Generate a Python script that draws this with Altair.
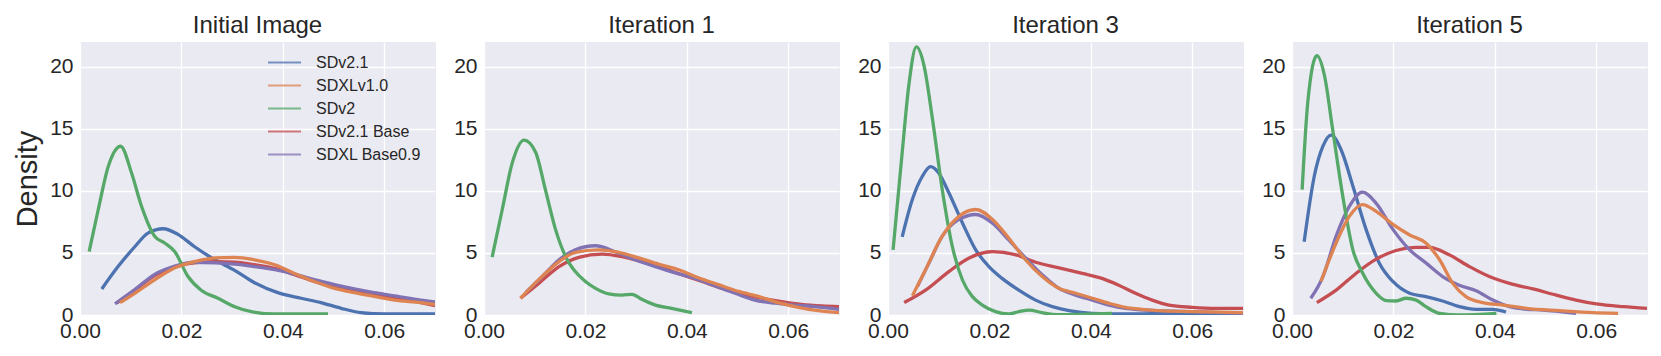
import altair as alt
import pandas as pd

SERIES = ["SDv2.1", "SDXLv1.0", "SDv2", "SDv2.1 Base", "SDXL Base0.9"]
COLORS = ["#4C72B0", "#DD8452", "#55A868", "#C44E52", "#8172B3"]
DRAW_ORDER = ["SDv2.1", "SDv2.1 Base", "SDXL Base0.9", "SDv2", "SDXLv1.0"]
TITLES = ["Initial Image", "Iteration 1", "Iteration 3", "Iteration 5"]
X_TICKS = [0.0, 0.02, 0.04, 0.06]
Y_TICKS = [0, 5, 10, 15, 20]

# ---- Initial Image ----
p1_sdv21_x = [0.0043, 0.0075, 0.0108, 0.0134, 0.0164, 0.0193, 0.0226, 0.0266, 0.0305, 0.0344, 0.039, 0.0436, 0.0475, 0.0515, 0.0554, 0.06, 0.065, 0.07]
p1_sdv21_y = [2.1, 3.9, 5.5, 6.6, 6.95, 6.5, 5.5, 4.45, 3.6, 2.6, 1.8, 1.35, 1.0, 0.54, 0.19, 0.08, 0.08, 0.08]
p1_sdxl10_x = [0.0079, 0.0108, 0.0148, 0.0187, 0.0226, 0.0266, 0.0305, 0.0344, 0.0384, 0.0423, 0.0462, 0.0502, 0.0541, 0.058, 0.062, 0.0672, 0.07]
p1_sdxl10_y = [1.0, 1.75, 2.85, 3.8, 4.3, 4.6, 4.65, 4.45, 4.05, 3.35, 2.7, 2.15, 1.8, 1.5, 1.2, 1.0, 0.85]
p1_sdv2_x = [0.0018, 0.0036, 0.0056, 0.008, 0.0102, 0.0121, 0.0148, 0.0167, 0.0187, 0.0213, 0.0239, 0.0272, 0.0305, 0.0338, 0.0384, 0.043, 0.0489]
p1_sdv2_y = [5.1, 8.5, 12.0, 13.6, 11.4, 8.8, 6.3, 5.8, 5.1, 3.1, 2.0, 1.35, 0.67, 0.27, 0.08, 0.08, 0.08]
p1_sdv21b_x = [0.0072, 0.0108, 0.0148, 0.0187, 0.0226, 0.0266, 0.0305, 0.0344, 0.0384, 0.0423, 0.0462, 0.0502, 0.0541, 0.058, 0.062, 0.0672, 0.07]
p1_sdv21b_y = [0.95, 2.0, 3.2, 3.9, 4.2, 4.3, 4.25, 4.05, 3.75, 3.25, 2.7, 2.3, 1.95, 1.65, 1.35, 1.0, 0.75]
p1_sdxl09_x = [0.0069, 0.0108, 0.0148, 0.0187, 0.0226, 0.0266, 0.0305, 0.0344, 0.0384, 0.0423, 0.0462, 0.0502, 0.0541, 0.058, 0.062, 0.0672, 0.07]
p1_sdxl09_y = [0.9, 2.05, 3.3, 3.95, 4.25, 4.2, 4.1, 3.9, 3.65, 3.3, 2.85, 2.45, 2.1, 1.8, 1.55, 1.2, 1.05]

# ---- Iteration 1 ----
p2_sdxl10_x = [0.0072, 0.0108, 0.0148, 0.018, 0.0226, 0.0266, 0.0305, 0.0344, 0.0384, 0.0423, 0.0462, 0.0502, 0.0541, 0.058, 0.062, 0.0659, 0.07]
p2_sdxl10_y = [1.35, 2.85, 4.3, 5.05, 5.25, 5.05, 4.6, 4.1, 3.65, 3.0, 2.45, 1.9, 1.5, 1.0, 0.62, 0.35, 0.19]
p2_sdv2_x = [0.0016, 0.0036, 0.0056, 0.0079, 0.0102, 0.0121, 0.0141, 0.0161, 0.018, 0.02, 0.022, 0.0246, 0.0272, 0.0292, 0.0311, 0.0338, 0.037, 0.041]
p2_sdv2_y = [4.66, 8.5, 12.3, 14.1, 13.1, 10.1, 6.9, 4.7, 3.5, 2.7, 2.15, 1.7, 1.6, 1.67, 1.27, 0.8, 0.54, 0.19]
p2_sdv21b_x = [0.0072, 0.0108, 0.0148, 0.0187, 0.0233, 0.0272, 0.0311, 0.0351, 0.039, 0.043, 0.0469, 0.0508, 0.0548, 0.0587, 0.0626, 0.0666, 0.07]
p2_sdv21b_y = [1.35, 2.55, 3.9, 4.65, 4.9, 4.7, 4.3, 3.8, 3.25, 2.7, 2.15, 1.7, 1.35, 1.08, 0.86, 0.73, 0.67]
p2_sdxl09_x = [0.0082, 0.0115, 0.0148, 0.018, 0.022, 0.0259, 0.0298, 0.0338, 0.0377, 0.0416, 0.0456, 0.0495, 0.0534, 0.0574, 0.0613, 0.0652, 0.07]
p2_sdxl09_y = [1.8, 3.1, 4.45, 5.25, 5.58, 5.1, 4.45, 3.9, 3.4, 2.95, 2.35, 1.75, 1.2, 0.95, 0.8, 0.67, 0.45]

# ---- Iteration 3 ----
p3_sdv21_x = [0.0028, 0.0048, 0.0068, 0.0084, 0.01, 0.012, 0.0147, 0.0173, 0.0199, 0.0225, 0.0258, 0.0291, 0.0324, 0.0357, 0.0403, 0.0468, 0.0567, 0.07]
p3_sdv21_y = [6.3, 9.3, 11.2, 11.95, 11.45, 9.85, 7.4, 5.25, 3.9, 2.95, 2.0, 1.2, 0.67, 0.35, 0.13, 0.08, 0.13, 0.08]
p3_sdxl10_x = [0.0048, 0.0074, 0.0107, 0.014, 0.0173, 0.0206, 0.0238, 0.0271, 0.0304, 0.0337, 0.037, 0.0403, 0.0436, 0.0468, 0.0501, 0.0534, 0.06, 0.07]
p3_sdxl10_y = [1.55, 3.65, 6.35, 7.95, 8.5, 7.7, 6.2, 4.45, 3.1, 2.15, 1.75, 1.35, 0.94, 0.62, 0.46, 0.35, 0.27, 0.19]
p3_sdv2_x = [0.001, 0.0028, 0.0041, 0.0056, 0.0071, 0.0087, 0.0107, 0.0127, 0.0147, 0.0166, 0.0186, 0.0212, 0.0238, 0.0258, 0.0278, 0.0304, 0.0337, 0.0442]
p3_sdv2_y = [5.25, 13.1, 18.5, 21.6, 20.1, 16.0, 10.1, 5.5, 2.8, 1.5, 0.8, 0.27, 0.08, 0.27, 0.4, 0.19, 0.03, 0.13]
p3_sdv21b_x = [0.0032, 0.0074, 0.012, 0.016, 0.0206, 0.0252, 0.0291, 0.0337, 0.0383, 0.0422, 0.0455, 0.0488, 0.0521, 0.0554, 0.06, 0.0646, 0.07]
p3_sdv21b_y = [1.0, 2.0, 3.5, 4.6, 5.1, 4.85, 4.25, 3.8, 3.35, 2.95, 2.4, 1.75, 1.2, 0.8, 0.62, 0.54, 0.54]
p3_sdxl09_x = [0.0058, 0.0081, 0.0107, 0.014, 0.0173, 0.0206, 0.0238, 0.0271, 0.0304, 0.0337, 0.037, 0.0403, 0.0436, 0.0468, 0.0534, 0.06, 0.07]
p3_sdxl09_y = [2.3, 4.2, 6.35, 7.7, 8.1, 7.4, 6.05, 4.6, 3.25, 2.15, 1.6, 1.2, 0.8, 0.54, 0.35, 0.27, 0.13]

# ---- Iteration 5 ----
p4_sdv21_x = [0.0024, 0.0044, 0.0061, 0.0077, 0.0097, 0.012, 0.0146, 0.0172, 0.0199, 0.0232, 0.0264, 0.0297, 0.033, 0.0363, 0.0396, 0.0422]
p4_sdv21_y = [5.9, 11.2, 13.6, 14.5, 13.3, 10.4, 6.9, 4.2, 2.7, 1.75, 1.48, 1.13, 0.67, 0.46, 0.46, 0.24]
p4_sdxl10_x = [0.0057, 0.0087, 0.0113, 0.0139, 0.0166, 0.0199, 0.0232, 0.0264, 0.0291, 0.0317, 0.0343, 0.0376, 0.0416, 0.0462, 0.0528, 0.0593, 0.0643]
p4_sdxl10_y = [2.7, 5.8, 7.95, 8.9, 8.35, 7.3, 6.45, 5.8, 4.45, 2.55, 1.48, 1.0, 0.8, 0.54, 0.35, 0.19, 0.13]
p4_sdv2_x = [0.002, 0.0031, 0.0049, 0.0064, 0.008, 0.01, 0.012, 0.0139, 0.0166, 0.0186, 0.0205, 0.0225, 0.0245, 0.0264, 0.0291, 0.033, 0.0403]
p4_sdv2_y = [10.1, 17.1, 20.9, 19.3, 15.0, 9.6, 5.25, 3.4, 1.75, 1.16, 1.13, 1.35, 1.2, 0.67, 0.13, 0.0, 0.13]
p4_sdv21b_x = [0.0049, 0.0087, 0.0126, 0.0166, 0.0205, 0.0245, 0.0271, 0.031, 0.035, 0.0389, 0.0429, 0.0475, 0.0521, 0.056, 0.06, 0.0653, 0.07]
p4_sdv21b_y = [1.0, 2.0, 3.35, 4.5, 5.2, 5.45, 5.45, 4.85, 3.9, 3.1, 2.55, 2.1, 1.6, 1.2, 0.89, 0.67, 0.54]
p4_sdxl09_x = [0.0037, 0.0061, 0.0087, 0.0113, 0.0139, 0.0166, 0.0199, 0.0232, 0.0264, 0.0297, 0.033, 0.0363, 0.0396, 0.0429, 0.0462, 0.0495, 0.0528, 0.056]
p4_sdxl09_y = [1.35, 3.1, 6.35, 8.75, 9.9, 9.0, 6.9, 5.25, 4.2, 3.1, 2.4, 1.95, 1.2, 0.67, 0.46, 0.4, 0.27, 0.13]

PANELS = [
    {"SDv2.1": (p1_sdv21_x, p1_sdv21_y), "SDXLv1.0": (p1_sdxl10_x, p1_sdxl10_y), "SDv2": (p1_sdv2_x, p1_sdv2_y),
     "SDv2.1 Base": (p1_sdv21b_x, p1_sdv21b_y), "SDXL Base0.9": (p1_sdxl09_x, p1_sdxl09_y)},
    {"SDXLv1.0": (p2_sdxl10_x, p2_sdxl10_y), "SDv2": (p2_sdv2_x, p2_sdv2_y),
     "SDv2.1 Base": (p2_sdv21b_x, p2_sdv21b_y), "SDXL Base0.9": (p2_sdxl09_x, p2_sdxl09_y)},
    {"SDv2.1": (p3_sdv21_x, p3_sdv21_y), "SDXLv1.0": (p3_sdxl10_x, p3_sdxl10_y), "SDv2": (p3_sdv2_x, p3_sdv2_y),
     "SDv2.1 Base": (p3_sdv21b_x, p3_sdv21b_y), "SDXL Base0.9": (p3_sdxl09_x, p3_sdxl09_y)},
    {"SDv2.1": (p4_sdv21_x, p4_sdv21_y), "SDXLv1.0": (p4_sdxl10_x, p4_sdxl10_y), "SDv2": (p4_sdv2_x, p4_sdv2_y),
     "SDv2.1 Base": (p4_sdv21b_x, p4_sdv21b_y), "SDXL Base0.9": (p4_sdxl09_x, p4_sdxl09_y)},
]

FONT = "Liberation Sans"
TEXT = "#262626"
LEGEND_FS = 16


def make_panel(i):
    rows = []
    for name in DRAW_ORDER:
        if name not in PANELS[i]:
            continue
        xs, ys = PANELS[i][name]
        for k, (xv, yv) in enumerate(zip(xs, ys)):
            rows.append({"series": name, "x": xv, "y": yv, "k": k})
    df = pd.DataFrame(rows)
    if i == 0:
        legend = alt.Legend(
            orient="none", legendX=187, legendY=11, title=None, padding=0,
            symbolType="stroke", symbolSize=1089, symbolStrokeWidth=1.8, symbolOpacity=0.75,
            clipHeight=19, rowPadding=4, labelOffset=14, labelFontSize=LEGEND_FS, labelLimit=300,
            labelFont=FONT, labelColor=TEXT,
        )
        y_axis = alt.Axis(values=Y_TICKS, title="Density", titleFontSize=29, titleFont=FONT,
                          titleFontWeight="normal", titleColor=TEXT, titlePadding=7)
    else:
        legend = None
        y_axis = alt.Axis(values=Y_TICKS, title=None)
    return alt.Chart(df).mark_line(strokeWidth=3.3, interpolate="monotone", clip=True).encode(
        x=alt.X("x:Q", scale=alt.Scale(domain=[0, 0.07], nice=False, zero=False),
                axis=alt.Axis(values=X_TICKS, format=".2f", title=None, labelFlush=False)),
        y=alt.Y("y:Q", scale=alt.Scale(domain=[0, 22], nice=False), axis=y_axis),
        color=alt.Color("series:N", scale=alt.Scale(domain=SERIES, range=COLORS), legend=legend),
        order=alt.Order("k:Q"),
    ).properties(
        width=355, height=273,
        title=alt.TitleParams(TITLES[i], fontSize=24, font=FONT, fontWeight="normal", color=TEXT, offset=4),
    )


chart = alt.hconcat(*[make_panel(i) for i in range(4)], spacing=17).resolve_scale(
    color="independent"
).configure_view(
    fill="#EAEAF2", stroke="#EAEAF2"
).configure_axis(
    grid=True, gridColor="white", gridWidth=1.3, domain=False, ticks=False,
    labelFontSize=21, labelFont=FONT, labelColor=TEXT, labelPadding=5,
).configure_axisY(
    labelPadding=7
).configure_legend(
    labelFontSize=LEGEND_FS, labelFont=FONT, labelColor=TEXT
)

chart.save("out.html", embed_options={"renderer": "svg", "actions": False})
